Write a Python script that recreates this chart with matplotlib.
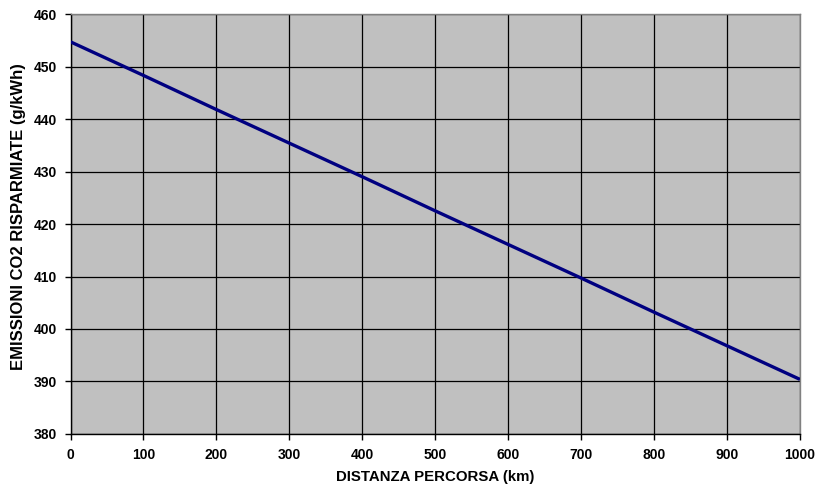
import numpy as np
import matplotlib.pyplot as plt

plt.rcParams['font.family'] = ['Liberation Sans', 'DejaVu Sans']

# distanza percorsa (km) e emissioni CO2 risparmiate (g/kWh)
distanza = [0, 100, 200, 300, 400, 500, 600, 700, 800, 900, 1000]
emissioni = [454.7, 448.3, 441.8, 435.4, 429.0, 422.5, 416.1, 409.7, 403.2, 396.8, 390.4]

fig = plt.figure(figsize=(8.21, 4.90), dpi=100)
ax = fig.add_axes([0.0859, 0.1143, 0.8885, 0.8571])
ax.set_facecolor('#C0C0C0')

ax.plot(distanza, emissioni, color='#000080', lw=2.4, solid_capstyle='butt', zorder=3)

ax.set_xlim(0, 1000)
ax.set_ylim(380, 460)
ax.set_xticks(np.arange(0, 1001, 100))
ax.set_yticks(np.arange(380, 461, 10))
ax.grid(True, color='black', lw=0.9)
ax.set_axisbelow(True)
for s in ax.spines.values():
    s.set_color('#808080')
    s.set_linewidth(1)
ax.spines['left'].set_color('black')
ax.spines['bottom'].set_color('black')

ax.tick_params(direction='out', length=4, width=1, labelsize=10, pad=6)
for lab in ax.get_xticklabels() + ax.get_yticklabels():
    lab.set_fontweight('bold')

ax.set_xlabel('DISTANZA PERCORSA (km)', fontsize=10.8, fontweight='bold', labelpad=6)
ax.set_ylabel('EMISSIONI CO2 RISPARMIATE (g/kWh)', fontsize=12, fontweight='bold',
              va='center')
ax.yaxis.set_label_coords(-0.071, 0.517)

fig.savefig('out.png', dpi=100)
